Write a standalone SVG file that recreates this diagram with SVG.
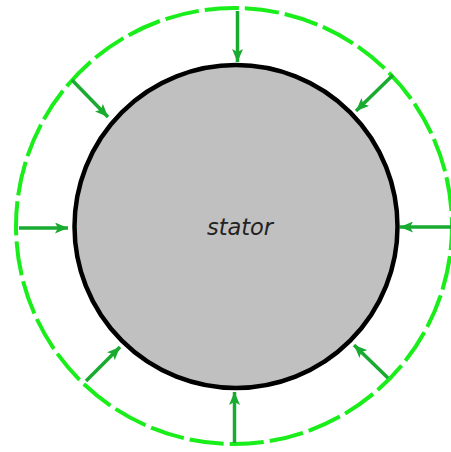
<svg xmlns="http://www.w3.org/2000/svg" width="451" height="452" viewBox="0 0 451 452">
<style>
.arr{stroke:#19aa30;stroke-width:3.5;fill:none;marker-end:url(#ah)}
</style>
<defs>
<marker id="ah" markerWidth="13" markerHeight="11" refX="13" refY="5.5" orient="auto" markerUnits="userSpaceOnUse">
<path d="M0,0 L13,5.5 L0,11 L3,5.5 Z" fill="#19aa30"/>
</marker>
</defs>
<rect width="451" height="452" fill="#fff"/>
<g id="field">
<circle cx="234" cy="226" r="218" fill="none" stroke="#1aee1a" stroke-width="4" stroke-dasharray="34.3 6" stroke-dashoffset="10"/>
</g>
<g id="stator">
<circle cx="236" cy="226.5" r="161.5" fill="#c0c0c0" stroke="#000" stroke-width="4.5"/>
<text x="240" y="235" font-family="DejaVu Sans, sans-serif" font-style="italic" font-size="22.5" fill="#222" text-anchor="middle">stator</text>
</g>
<g id="connectors">
<line class="arr" x1="237.5" y1="11" x2="237.5" y2="62"/>
<line class="arr" x1="19" y1="228" x2="68" y2="228"/>
<line class="arr" x1="451" y1="227" x2="400" y2="227"/>
<line class="arr" x1="234.5" y1="443" x2="234.5" y2="392"/>
<line class="arr" x1="72" y1="80" x2="108" y2="117"/>
<line class="arr" x1="393" y1="75" x2="356" y2="111"/>
<line class="arr" x1="86" y1="381" x2="120" y2="347"/>
<line class="arr" x1="388" y1="378" x2="354" y2="345"/>
</g>
</svg>
